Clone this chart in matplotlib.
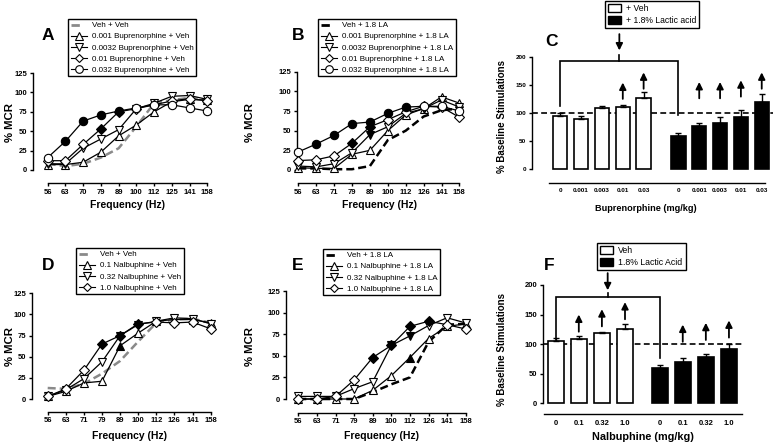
import numpy as np
import matplotlib
matplotlib.use('Agg')
import matplotlib.pyplot as plt
from matplotlib.lines import Line2D
from matplotlib.patches import Patch

plt.rcParams['font.family'] = ['Liberation Sans', 'DejaVu Sans']

# ---------------- data ----------------
freq_A = ['56', '63', '70', '79', '89', '100', '112', '125', '141', '158']
freq_B = ['56', '63', '71', '79', '89', '100', '112', '126', '141', '158']
freq_D = ['56', '63', '71', '79', '89', '100', '112', '126', '141', '158']
freq_E = ['56', '63', '71', '79', '89', '100', '112', '126', '141', '158']

# Panel A (buprenorphine + Veh)
veh_A = [8, 5, 8, 16, 28, 56, 86, 90, 93, 90]
bup0001_A = [7, 7, 10, 23, 44, 58, 75, 88, 91, 90]
bup00032_A = [8, 8, 28, 40, 52, 79, 86, 95, 96, 91]
bup001_A = [12, 12, 33, 53, 75, 79, 84, 89, 92, 89]
bup0032_A = [16, 37, 63, 71, 76, 80, 84, 84, 80, 76]
sig0001_A = [0, 0, 0, 0, 0, 0, 0, 0, 0, 0]
sig00032_A = [0, 0, 0, 0, 0, 0, 0, 0, 0, 0]
sig001_A = [0, 0, 0, 1, 1, 0, 0, 0, 0, 0]
sig0032_A = [0, 1, 1, 1, 1, 0, 0, 0, 0, 0]

# Panel B (buprenorphine + 1.8 LA)
veh_B = [2, 2, 1, 1, 5, 38, 50, 68, 76, 78]
bup0001_B = [3, 2, 2, 20, 25, 50, 70, 78, 93, 85]
bup00032_B = [5, 4, 8, 22, 45, 55, 72, 78, 89, 80]
bup001_B = [12, 13, 18, 34, 55, 64, 74, 81, 80, 67]
bup0032_B = [23, 33, 44, 59, 61, 72, 80, 81, 81, 75]
sig0001_B = [0, 0, 0, 0, 0, 0, 0, 0, 0, 0]
sig00032_B = [0, 0, 0, 0, 1, 0, 0, 0, 0, 0]
sig001_B = [0, 0, 0, 1, 1, 0, 0, 0, 0, 0]
sig0032_B = [0, 1, 1, 1, 1, 1, 1, 0, 0, 0]

# Panel D (nalbuphine + Veh)
veh_D = [13, 12, 18, 30, 45, 68, 90, 94, 95, 90]
nal01_D = [3, 9, 19, 21, 63, 78, 92, 94, 94, 90]
nal032_D = [3, 11, 24, 44, 75, 88, 92, 96, 95, 89]
nal10_D = [3, 12, 34, 65, 75, 89, 91, 90, 91, 83]
sig01_D = [0, 0, 0, 0, 1, 0, 0, 0, 0, 0]
sig032_D = [0, 0, 0, 0, 1, 0, 0, 0, 0, 0]
sig10_D = [0, 0, 0, 1, 1, 1, 0, 0, 0, 0]

# Panel E (nalbuphine + 1.8 LA)
veh_E = [0, 0, 0, 0, 8, 17, 25, 66, 86, 87]
nal01_E = [0, 0, 0, 0, 10, 27, 48, 70, 84, 87]
nal032_E = [3, 3, 3, 12, 20, 62, 73, 85, 94, 88]
nal10_E = [0, 0, 3, 22, 48, 62, 84, 90, 86, 81]
sig01_E = [0, 0, 0, 0, 0, 0, 1, 0, 0, 0]
sig032_E = [0, 0, 0, 0, 0, 1, 1, 0, 0, 0]
sig10_E = [0, 0, 0, 0, 1, 1, 1, 1, 0, 0]

# Panel C (bars)
dose_C = ['0', '0.001', '0.003', '0.01', '0.03']
veh_C = [95, 89, 108, 110, 126]
veh_C_err = [5, 6, 4, 5, 12]
la_C = [60, 76, 82, 93, 119]
la_C_err = [5, 7, 11, 13, 15]
arrow_veh_C = [None, None, None, 125, 143]
arrow_la_C = [None, 126, 126, 129, 143]

# Panel F (bars)
dose_F = ['0', '0.1', '0.32', '1.0']
veh_F = [106, 108, 118, 125]
veh_F_err = [5, 6, 3, 9]
la_F = [59, 69, 79, 91]
la_F_err = [6, 7, 5, 9]
arrow_veh_F = [None, 121, 130, 142]
arrow_la_F = [None, 104, 107, 111]

# ---------------- figure ----------------
W, H = 775, 445
fig = plt.figure(figsize=(W / 100, H / 100), dpi=100)
GRAY = '#8a8a8a'


def px_axes(left, right, top, bottom):
    return fig.add_axes([left / W, 1 - bottom / H, (right - left) / W, (bottom - top) / H])


def ftext(x, y, s, **kw):
    fig.text(x / W, 1 - y / H, s, **kw)


def style_axes(ax, fs):
    for s in ['top', 'right']:
        ax.spines[s].set_visible(False)
    for s in ['left', 'bottom']:
        ax.spines[s].set_linewidth(1.0)
    ax.tick_params(direction='out', length=2.5, width=1.0, labelsize=fs, pad=1.5)
    for lab in ax.get_xticklabels() + ax.get_yticklabels():
        lab.set_fontweight('bold')


def line_panel(freqs, veh, veh_color, veh_label, series, x0, dx, y0, dy,
               yax, xax, right, top, leg_xy):
    ax = px_axes(yax, right, top, xax)
    ax.set_xlim((yax - x0) / dx, (right - x0) / dx)
    ax.set_ylim((y0 - xax) / dy, (y0 - top) / dy)
    x = np.arange(len(freqs))
    ax.plot(x, veh, color=veh_color, lw=1.8, dashes=(3.2, 1.6), zorder=2)
    handles = [Line2D([0], [0], color=veh_color, lw=2.0, dashes=(3.0, 10.0))]
    labels = [veh_label]
    z = 3
    for vals, sig, mk, ms, lab in series:
        vals = np.array(vals, float)
        sig = np.array(sig, bool)
        ax.plot(x, vals, color='black', lw=0.9, zorder=z)
        ax.plot(x[~sig], vals[~sig], ls='none', marker=mk, ms=ms, mfc='white',
                mec='black', mew=0.8, zorder=z + 0.5, clip_on=False)
        ax.plot(x[sig], vals[sig], ls='none', marker=mk, ms=ms, mfc='black',
                mec='black', mew=0.8, zorder=z + 0.5, clip_on=False)
        handles.append(Line2D([0], [0], color='black', lw=0.8, marker=mk, ms=ms - 0.5,
                              mfc='white', mec='black', mew=0.8))
        labels.append(lab)
        z += 1
    ax.spines['left'].set_bounds(0, 125)
    ax.spines['bottom'].set_bounds(0, len(freqs) - 1)
    ax.set_yticks([0, 25, 50, 75, 100, 125])
    ax.set_xticks(x)
    ax.set_xticklabels(freqs)
    style_axes(ax, 5.5)
    leg = ax.legend(handles, labels, loc='upper left',
                    bbox_to_anchor=(leg_xy[0] / W, 1 - leg_xy[1] / H),
                    bbox_transform=fig.transFigure, fontsize=5.8, frameon=True,
                    fancybox=False, edgecolor='black', framealpha=1, borderpad=0.35,
                    labelspacing=0.42, handlelength=2.0, handletextpad=0.6,
                    borderaxespad=0)
    leg.get_frame().set_linewidth(1.0)
    return ax


def up_arrow(ax, x, y0, y1):
    ax.annotate('', xy=(x, y1), xytext=(x, y0),
                arrowprops=dict(arrowstyle='-|>', color='black', lw=1.3,
                                mutation_scale=10, shrinkA=0, shrinkB=0),
                annotation_clip=False)


def bar_panel(doses, veh, veh_err, la, la_err, arr_veh, arr_la, gap,
              p0, dp, y0, dy, yax, xax, right, top, xs_left, xs_right, fs,
              bracket, leg_labels, leg_xy, leg_fs):
    ax = px_axes(yax, right, top, xax)
    ax.set_xlim((yax - p0) / dp, (right - p0) / dp)
    ax.set_ylim((y0 - xax) / dy, (y0 - top) / dy)
    n = len(doses)
    pv = np.arange(n, dtype=float)
    pl = np.arange(n, dtype=float) + n + gap
    ax.axhline(100, color='black', lw=1.2, dashes=(3.5, 2.0), zorder=1)
    bw = 0.69
    ax.bar(pv, veh, width=bw, color='white', edgecolor='black', lw=1.2, zorder=2)
    ax.bar(pl, la, width=bw, color='black', edgecolor='black', lw=1.2, zorder=2)
    ax.errorbar(pv, veh, yerr=[np.zeros(n), veh_err], fmt='none', ecolor='black',
                elinewidth=1.0, capsize=2.5, capthick=1.0, zorder=3)
    ax.errorbar(pl, la, yerr=[np.zeros(n), la_err], fmt='none', ecolor='black',
                elinewidth=1.0, capsize=2.5, capthick=1.0, zorder=3)
    for p, a in zip(pv, arr_veh):
        if a is not None:
            up_arrow(ax, p, a, a + 29)
    for p, a in zip(pl, arr_la):
        if a is not None:
            up_arrow(ax, p, a, a + 29)
    ybr, yl, yr, ytick, yarr0, yarr1 = bracket
    xl, xr = pv[0], pl[0]
    xm = (xl + xr) / 2
    ax.plot([xl, xl, xr, xr], [yl, ybr, ybr, yr], color='black', lw=1.2,
            clip_on=False, zorder=4, solid_joinstyle='miter')
    ax.plot([xm, xm], [ybr, ytick], color='black', lw=1.2, clip_on=False, zorder=4)
    up_arrow(ax, xm, yarr0, yarr1)
    ax.spines['left'].set_bounds(0, 200)
    ax.spines['bottom'].set_bounds(xs_left, xs_right)
    ax.set_yticks([0, 50, 100, 150, 200])
    ax.set_xticks(np.concatenate([pv, pl]))
    ax.set_xticklabels(list(doses) + list(doses))
    style_axes(ax, fs)
    ax.tick_params(axis='x', length=0, pad=4)
    handles = [Patch(facecolor='white', edgecolor='black', lw=1.0),
               Patch(facecolor='black', edgecolor='black', lw=1.0)]
    leg = ax.legend(handles, leg_labels, loc='upper left',
                    bbox_to_anchor=(leg_xy[0] / W, 1 - leg_xy[1] / H),
                    bbox_transform=fig.transFigure, fontsize=leg_fs, frameon=True,
                    fancybox=False, edgecolor='black', framealpha=1, borderpad=0.35,
                    labelspacing=0.35, handlelength=1.5, handleheight=1.0,
                    handletextpad=0.6, borderaxespad=0)
    leg.get_frame().set_linewidth(1.0)
    return ax


# Panel A
line_panel(freq_A, veh_A, GRAY, 'Veh + Veh',
           [(bup0001_A, sig0001_A, '^', 6, '0.001 Buprenorphine + Veh'),
            (bup00032_A, sig00032_A, 'v', 6, '0.0032 Buprenorphine + Veh'),
            (bup001_A, sig001_A, 'D', 5, '0.01 Buprenorphine + Veh'),
            (bup0032_A, sig0032_A, 'o', 6, '0.032 Buprenorphine + Veh')],
           x0=47.7, dx=17.73, y0=170, dy=0.776, yax=33, xax=183.3, right=214, top=68,
           leg_xy=(68, 19))

# Panel B
line_panel(freq_B, veh_B, 'black', 'Veh + 1.8 LA',
           [(bup0001_B, sig0001_B, '^', 6, '0.001 Buprenorphine + 1.8 LA'),
            (bup00032_B, sig00032_B, 'v', 6, '0.0032 Buprenorphine + 1.8 LA'),
            (bup001_B, sig001_B, 'D', 5, '0.01 Buprenorphine + 1.8 LA'),
            (bup0032_B, sig0032_B, 'o', 6, '0.032 Buprenorphine + 1.8 LA')],
           x0=298.3, dx=17.9, y0=170, dy=0.7864, yax=296.5, xax=183.3, right=466, top=68,
           leg_xy=(318, 19))

# Panel D
line_panel(freq_D, veh_D, GRAY, 'Veh + Veh',
           [(nal01_D, sig01_D, '^', 6, '0.1 Nalbuphine + Veh'),
            (nal032_D, sig032_D, 'v', 6, '0.32 Nalbuphine + Veh'),
            (nal10_D, sig10_D, 'D', 5, '1.0 Nalbuphine + Veh')],
           x0=47.7, dx=18.1, y0=399, dy=0.8456, yax=32, xax=411.7, right=217, top=290,
           leg_xy=(76, 248))

# Panel E
line_panel(freq_E, veh_E, 'black', 'Veh + 1.8 LA',
           [(nal01_E, sig01_E, '^', 6, '0.1 Nalbuphine + 1.8 LA'),
            (nal032_E, sig032_E, 'v', 6, '0.32 Nalbuphine + 1.8 LA'),
            (nal10_E, sig10_E, 'D', 5, '1.0 Nalbuphine + 1.8 LA')],
           x0=298.3, dx=18.6, y0=399, dy=0.864, yax=285.7, xax=412.5, right=472, top=288,
           leg_xy=(323, 249))

# Panel C
bar_panel(dose_C, veh_C, veh_C_err, la_C, la_C_err, arrow_veh_C, arrow_la_C, 0.67,
          p0=560.3, dp=20.83, y0=169.3, dy=0.5633, yax=531.7, xax=182.7, right=773,
          top=20, xs_left=-0.54, xs_right=9.83, fs=4.6,
          bracket=(193, 112, 96, 203, 240, 211),
          leg_labels=['+ Veh', '+ 1.8% Lactic acid'], leg_xy=(605, 1), leg_fs=6.2)

# Panel F
bar_panel(dose_F, veh_F, veh_F_err, la_F, la_F_err, arrow_veh_F, arrow_la_F, 0.5,
          p0=555.7, dp=23.1, y0=403.3, dy=0.5917, yax=543, xax=414, right=743,
          top=245, xs_left=-0.51, xs_right=8.07, fs=5.5,
          bracket=(179, 107, 76, 187, 220, 191),
          leg_labels=['Veh', '1.8% Lactic Acid'], leg_xy=(597, 243), leg_fs=6.3)

# Panel letters
for (x, y, s) in [(48, 35, 'A'), (298, 35, 'B'), (551, 42, 'C'),
                  (48, 265, 'D'), (298, 265, 'E'), (549, 265, 'F')]:
    ftext(x, y, s, fontsize=12.5, fontweight='bold', ha='center', va='center')

# Axis labels
for (x, y) in [(10, 122), (250, 122), (10, 346), (250, 346)]:
    ftext(x, y, '% MCR', fontsize=8.2, fontweight='bold', rotation=90,
          ha='center', va='center')
for (x, y) in [(502, 117), (502, 349)]:
    ftext(x, y, '% Baseline Stimulations', fontsize=7, fontweight='bold',
          rotation=90, ha='center', va='center')
for (x, y) in [(127.5, 205), (379, 205), (129, 436), (382, 436)]:
    ftext(x, y, 'Frequency (Hz)', fontsize=7.5, fontweight='bold',
          ha='center', va='center')
ftext(646, 208, 'Buprenorphine (mg/kg)', fontsize=6.6, fontweight='bold',
      ha='center', va='center')
ftext(643, 437, 'Nalbuphine (mg/kg)', fontsize=7.8, fontweight='bold',
      ha='center', va='center')

fig.savefig('out.png', dpi=100)
